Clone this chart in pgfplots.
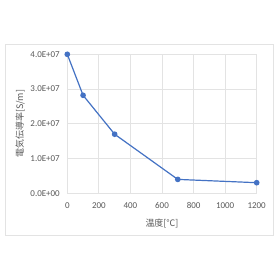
\documentclass[border=0pt]{standalone}
\usepackage{fontspec}
\setmainfont{Carlito}
\newfontfamily\jp{Noto Sans CJK JP}
\usepackage{pgfplots}
\pgfplotsset{compat=1.18}
\definecolor{txt}{HTML}{595959}
\definecolor{gridc}{HTML}{E3E3E3}
\definecolor{line}{HTML}{4472C4}
\begin{document}
\begin{tikzpicture}[x=1bp,y=1bp]
\fill[white] (0,0) rectangle (280,280);
\draw[gridc, line width=0.8bp] (5,45) rectangle (273,236);
\begin{axis}[
  at={(67.3bp,86.7bp)}, anchor=south west,
  scale only axis, width=189.4bp, height=139bp,
  xmin=0, xmax=1200, ymin=0, ymax=4e7,
  xtick={0,200,...,1200},
  ytick={0,1e7,2e7,3e7,4e7},
  yticklabels={0.0E+00,1.0E+07,2.0E+07,3.0E+07,4.0E+07},
  scaled y ticks=false,
  /pgf/number format/assume math mode=true,
  /pgf/number format/1000 sep={},
  xmajorgrids, ymajorgrids,
  grid style={gridc, line width=0.8bp},
  axis line style={draw=none},
  major tick length=0pt,
  tick label style={font=\fontsize{9}{10}\selectfont, text=txt},
  xticklabel style={yshift=-6bp},
  yticklabel style={xshift=-4bp},
  xlabel={{\jp 温度[℃]}},
  ylabel={{\jp 電気伝導率[S/m]}},
  label style={font=\fontsize{9}{10}\selectfont, text=txt},
  xlabel style={at={(axis description cs:0.5,0)}, yshift=-22bp},
  ylabel style={at={(axis description cs:0,0.5)}, yshift=39bp},
]
\draw[gridc, line width=0.8bp] (axis cs:0,0) -- (axis cs:1200,0);
\addplot[line, line width=1.2bp, mark=*, mark size=2.2bp, mark options={fill=line, draw=line}]
coordinates {(0,4.0e7) (100,2.82e7) (300,1.70e7) (700,0.40e7) (1200,0.305e7)};
\end{axis}
\end{tikzpicture}
\end{document}
